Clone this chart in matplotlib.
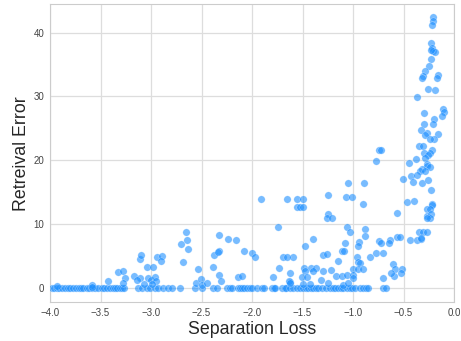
import matplotlib
matplotlib.use("Agg")
import matplotlib.pyplot as plt
import seaborn as sns

# Points above the baseline (Separation Loss, Retrieval Error)
sep_loss = [
    -0.205, -0.211, -0.221, -0.231, -0.221, -0.211, -0.188, -0.231, -0.231, -0.248,
    -0.284, -0.304, -0.317, -0.155, -0.171, -0.260, -0.185, -0.369, -0.106, -0.096,
    -0.116, -0.294, -0.195, -0.300, -0.211, -0.327, -0.270, -0.290, -0.161, -0.195,
    -0.238, -0.344, -0.304, -0.215, -0.297, -0.238, -0.255, -0.376, -0.287, -0.446,
    -0.264, -0.270, -0.238, -0.320, -0.337, -0.287, -0.423, -0.369, -0.409, -0.502,
    -0.320, -0.260, -0.228, -0.462, -0.393, -0.218, -0.221, -0.264, -0.238, -0.270,
    -0.231, -0.238, -0.270, -0.567, -0.344, -0.304, -0.270, -0.436, -0.369, -0.330,
    -0.330, -0.561, -0.535, -0.634, -0.607, -0.584, -0.594, -0.518, -0.525, -0.627,
    -0.740, -0.726, -0.772, -1.046, -0.891, -1.250, -1.069, -1.010, -0.901, -1.554,
    -1.498, -1.554, -1.525, -1.492, -1.244, -1.260, -1.211, -1.063, -1.030, -0.878,
    -0.878, -1.399, -1.475, -1.079, -0.937, -0.947, -0.740, -0.726, -0.644, -1.294,
    -1.254, -1.112, -1.089, -1.597, -0.957, -0.947, -0.832, -0.772, -0.700, -1.152,
    -0.931, -1.489, -1.419, -1.366, -1.294, -1.393, -1.475, -1.214, -1.003, -0.947,
    -0.898, -1.502, -1.452, -1.624, -1.168, -1.112, -1.063, -0.997, -0.997, -1.320,
    -0.700, -1.624, -1.244, -1.426, -1.498, -1.096, -1.046,
    -1.911, -1.653, -1.746, -1.997, -1.967, -1.690, -1.653, -1.730, -1.789, -1.631,
    -1.624,
    -2.076, -2.235, -2.161, -2.327, -2.376, -2.330, -2.340, -2.383, -2.532, -2.327,
    -2.307, -2.554, -2.508, -2.498, -2.443, -2.136, -2.102, -2.703, -2.686, -2.656,
    -2.647, -2.637, -2.938, -2.894, -2.904, -3.109, -3.102, -3.043, -2.977, -3.066,
    -3.033, -3.003, -2.960, -2.950, -2.993, -3.165, -3.109, -3.142, -3.330, -3.274,
    -3.257, -3.280, -3.423, -3.587, -3.581, -3.934,
]
retrieval_err = [
    42.4, 41.8, 41.2, 38.4, 37.5, 37.1, 37.0, 37.3, 35.8, 34.8,
    33.9, 33.2, 32.8, 33.4, 32.9, 31.1, 31.0, 29.9, 28.0, 27.6,
    27.0, 27.4, 26.4, 25.7, 25.7, 24.7, 24.2, 23.9, 24.1, 23.4,
    23.3, 22.3, 22.3, 21.6, 21.2, 21.1, 20.8, 20.2, 20.3, 19.6,
    19.4, 19.1, 18.9, 18.7, 18.3, 18.3, 17.6, 17.7, 16.6, 17.0,
    16.5, 16.9, 15.3, 13.5, 13.6, 13.2, 13.0, 12.3, 12.3, 11.3,
    11.5, 11.0, 11.0, 11.8, 8.8, 8.8, 8.8, 7.5, 7.5, 7.6,
    7.8, 8.0, 8.0, 7.5, 3.7, 3.0, 1.8, 2.9, 2.4, 2.3,
    21.6, 21.6, 19.9, 16.5, 16.5, 14.5, 14.3, 14.3, 13.1, 13.9,
    13.9, 12.6, 12.6, 12.6, 11.5, 11.0, 11.0, 9.5, 8.8, 9.2,
    8.2, 7.7, 6.5, 7.1, 7.2, 6.6, 7.3, 7.1, 7.1, 5.2,
    5.3, 5.8, 5.8, 4.8, 4.9, 4.1, 4.9, 5.5, 5.5, 4.2,
    3.9, 3.1, 3.1, 3.1, 2.6, 2.6, 2.6, 2.8, 2.9, 2.9,
    2.9, 1.7, 1.7, 2.3, 1.8, 1.8, 2.1, 2.0, 1.6, 1.3,
    1.6, 0.9, 0.8, 0.6, 0.6, 0.5, 0.7,
    13.9, 13.9, 9.5, 5.5, 4.8, 4.9, 4.9, 3.1, 1.7, 1.1,
    0.7,
    5.8, 7.6, 7.5, 8.3, 5.2, 5.8, 5.6, 3.3, 2.9, 2.1,
    1.05, 0.85, 1.4, 0.4, 0.7, 1.7, 1.9, 6.85, 4.1, 8.8,
    7.5, 6.1, 4.8, 5.0, 4.2, 4.5, 5.2, 3.3, 3.3, 0.6,
    1.5, 1.2, 1.7, 1.05, 0.6, 1.8, 1.6, 1.3, 2.5, 2.6,
    1.5, 0.8, 1.05, 0.4, 0.15, 0.27,
]

# Points lying on the zero baseline
base_loss = [
    -3.980, -3.960, -3.931, -3.911, -3.881, -3.851, -3.822, -3.802, -3.772, -3.743,
    -3.713, -3.693, -3.673, -3.634, -3.614, -3.584, -3.554, -3.525, -3.485, -3.465,
    -3.436, -3.406, -3.376, -3.356, -3.337, -3.307, -3.287, -3.267, -3.129, -3.089,
    -3.040, -3.010, -2.960, -2.931, -2.881, -2.832, -2.792, -2.713, -2.564, -2.495,
    -2.386, -2.347, -2.248, -2.218, -2.198, -2.139, -2.119, -2.099, -2.079, -2.050,
    -2.020, -2.000, -1.950, -1.901, -1.881, -1.802, -1.782, -1.772, -1.703, -1.673,
    -1.663, -1.624, -1.594, -1.554, -1.525, -1.495, -1.465, -1.446, -1.416, -1.396,
    -1.366, -1.347, -1.307, -1.267, -1.228, -1.198, -1.178, -1.149, -1.119, -1.099,
    -1.059, -1.030, -1.010, -0.980, -0.931, -0.901, -0.871, -0.851, -0.703, -0.673,
]
base_err = [0.0] * len(base_loss)

x_ticks = [-4.0, -3.5, -3.0, -2.5, -2.0, -1.5, -1.0, -0.5, 0.0]
y_ticks = [0, 10, 20, 30, 40]

sns.set_style("whitegrid")
plt.rcParams['font.family'] = ['Liberation Sans', 'DejaVu Sans']

fig = plt.figure(figsize=(4.61, 3.41), dpi=100)
ax = fig.add_axes([0.1085, 0.1135, 0.8764, 0.8745])

all_x = base_loss + sep_loss
all_y = base_err + retrieval_err
ax.scatter(all_x, all_y, s=28, color='#1E90FF', alpha=0.6,
           edgecolor='white', linewidth=0.25, zorder=3)

ax.set_xlim(-4.0, 0.0)
ax.set_ylim(-2.25, 44.45)
ax.set_xticks(x_ticks)
ax.set_yticks(y_ticks)
ax.set_xticklabels([f"{t:.1f}".replace("-", "\u2212") for t in x_ticks])
ax.tick_params(labelsize=7.0, colors='#444444', length=0, pad=4)
for s in ax.spines.values():
    s.set_color('#cccccc')
ax.grid(color='#dddddd', linewidth=0.9)

ax.set_xlabel("Separation Loss", fontsize=12.8, color='#262626', labelpad=2)
ax.set_ylabel("Retreival Error", fontsize=12.8, color='#262626', labelpad=3)

fig.savefig("out.png", dpi=100)
